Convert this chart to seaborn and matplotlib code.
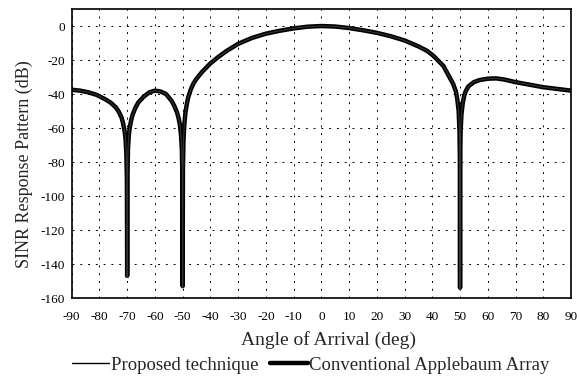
import matplotlib
matplotlib.use("Agg")
import matplotlib.pyplot as plt
import seaborn as sns
import pandas as pd
from matplotlib.lines import Line2D

# ---- data ----
angles = [-90, -87, -84, -81, -78, -76, -74, -73, -72, -71.5, -71, -70.6, -70.3, -70.1, -70,
          -69.9, -69.7, -69.4, -69, -68.5, -68, -67, -66, -64, -62, -60, -58, -56, -54, -53,
          -52, -51.5, -51, -50.6, -50.3, -50.1, -50, -49.9, -49.7, -49.4, -49, -48.5, -48,
          -47, -46, -45, -43, -40, -37, -34, -30, -25, -20, -15, -10, -5, 0, 5, 10, 15, 20,
          25, 30, 35, 38, 40, 41, 44, 45, 46, 47.5, 48.5, 49, 49.5, 49.8, 49.95, 50, 50.05,
          50.2, 50.5, 51, 51.5, 52, 53, 55, 57, 60, 63, 66, 70, 75, 80, 85, 90]
conventional = [-37.5, -38, -39, -40.5, -43, -45, -48, -50.5, -54, -57, -61, -66, -75, -90, -147,
                -90, -72, -64, -59, -55, -52, -48, -45, -41.5, -39, -38, -38.5, -40, -44, -47,
                -51, -54, -58, -64, -72, -88, -153, -85, -67, -58, -51, -46, -42,
                -37, -33.5, -31, -27, -22, -18, -14.5, -10.5, -7, -4.5, -2.8, -1.4, -0.4, 0, -0.3, -1.2, -2.5, -4,
                -6, -8.5, -12, -14.5, -17, -18.5, -23.5, -26.5, -29.5, -34, -38.5, -43, -50, -62, -80, -154, -80,
                -62, -52, -45, -41, -38.5, -35.5, -33, -31.8, -31, -30.8, -31.5, -33, -34.5, -36, -37, -38]
proposed = [-37.5, -38, -39, -40.5, -43, -45, -48, -50.5, -54, -57, -61, -66, -75, -90, -148,
            -90, -72, -64, -59, -55, -52, -48, -45, -41.5, -39, -38, -38.5, -40, -44, -47,
            -51, -54, -58, -64, -72, -88, -154, -85, -67, -58, -51, -46, -42,
            -37, -33.5, -31, -27, -22, -18, -14.5, -10.5, -7, -4.5, -2.8, -1.4, -0.4, 0, -0.3, -1.2, -2.5, -4,
            -6, -8.5, -12, -14.5, -17, -18.5, -23.5, -26.5, -29.5, -34, -38.5, -43, -50, -62, -80, -155, -80,
            -62, -52, -45, -41, -38.5, -35.5, -33, -31.8, -31, -30.8, -31.5, -33, -34.5, -36, -37, -38]
x_ticks = list(range(-90, 91, 10))
y_ticks = list(range(-160, 1, 20))
series_names = ["Proposed technique", "Conventional Applebaum Array"]

df_conv = pd.DataFrame({"angle": angles, "sinr": conventional})
df_prop = pd.DataFrame({"angle": angles, "sinr": proposed})

sns.set_style("white")
plt.rcParams["font.family"] = ["Liberation Serif", "DejaVu Serif"]
plt.rcParams["axes.unicode_minus"] = False

fig = plt.figure(figsize=(5.8, 3.76), dpi=100)
ax = fig.add_axes([0.1236, 0.2074, 0.8609, 0.7686])

sns.lineplot(data=df_conv, x="angle", y="sinr", ax=ax, sort=False, estimator=None,
             color="black", linewidth=3.2, solid_joinstyle="round")
sns.lineplot(data=df_prop, x="angle", y="sinr", ax=ax, sort=False, estimator=None,
             color="#333333", linewidth=0.8)

ax.set_xlim(-90, 90)
ax.set_ylim(-160, 10)
ax.set_xticks(x_ticks)
ax.set_yticks(y_ticks)
ax.tick_params(axis="both", labelsize=9.5, direction="inout", length=4, width=0.8,
               colors="black")
ax.tick_params(axis="x", pad=7)
ax.tick_params(axis="y", pad=3)
ax.grid(True, color="black", linestyle=(0, (2, 6)), linewidth=0.7)
for s in ax.spines.values():
    s.set_color("black")
    s.set_linewidth(1.2)

ax.set_xlabel("Angle of Arrival (deg)", fontsize=14, va="center")
ax.set_ylabel("SINR Response Pattern (dB)", fontsize=13, va="center")
ax.xaxis.set_label_coords(0.515, -0.145)
ax.yaxis.set_label_coords(-0.095, 0.464)

handles = [Line2D([], [], color="black", linewidth=1.0),
           Line2D([], [], color="black", linewidth=3.2)]
fig.legend(handles, series_names, loc="center", bbox_to_anchor=(0.536, 0.029),
           ncol=2, frameon=False, fontsize=13.5, handlelength=2.0, handletextpad=0.1,
           columnspacing=0.6, borderpad=0, borderaxespad=0)

fig.savefig("out.png", dpi=100)
